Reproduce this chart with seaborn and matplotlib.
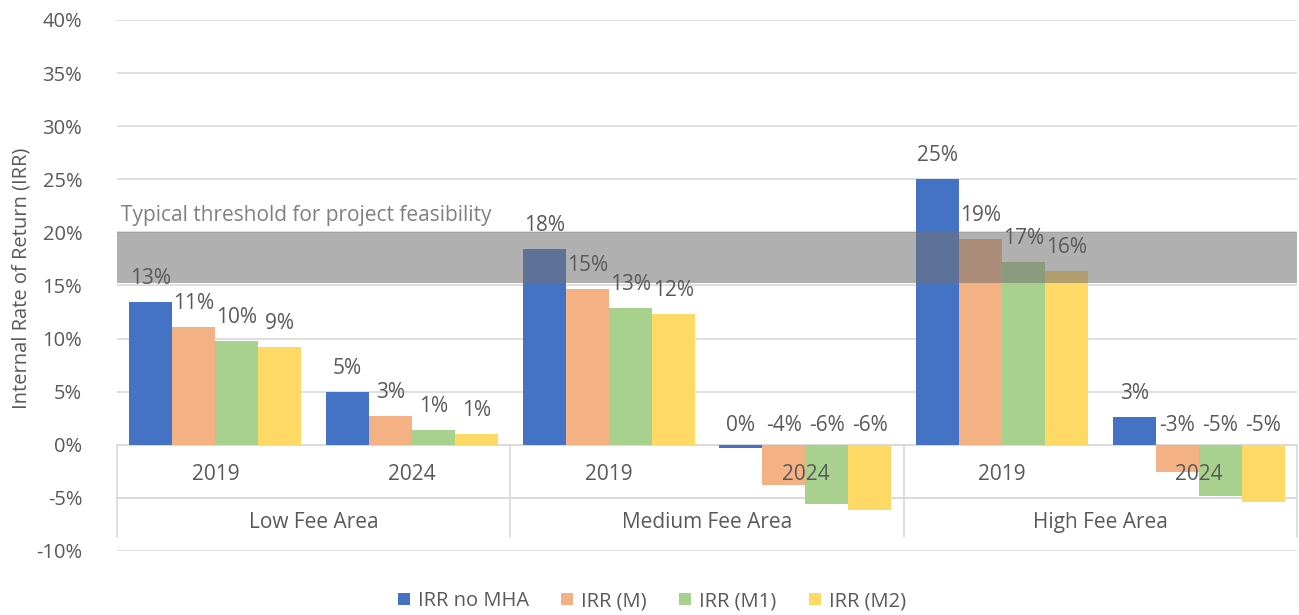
import matplotlib
matplotlib.use("Agg")
import matplotlib.pyplot as plt
import seaborn as sns
import pandas as pd

# ---- data ----
groups = ["Low Fee Area", "Medium Fee Area", "High Fee Area"]
years = ["2019", "2024"]
series = ["IRR no MHA", "IRR (M)", "IRR (M1)", "IRR (M2)"]
irr_no_mha = [13.4, 5.0, 18.4, -0.3, 25.0, 2.6]
irr_m = [11.1, 2.7, 14.7, -3.8, 19.4, -2.6]
irr_m1 = [9.8, 1.4, 12.9, -5.6, 17.2, -4.8]
irr_m2 = [9.2, 1.0, 12.3, -6.1, 16.4, -5.4]
yticks = [-10, -5, 0, 5, 10, 15, 20, 25, 30, 35, 40]
threshold_band = [15.2, 20.0]
threshold_label = "Typical threshold for project feasibility"
ylabel = "Internal Rate of Return (IRR)"
colors = ["#4472C4", "#F4B183", "#A9D18E", "#FFD966"]

# ---- build long table ----
cats = [f"{g}|{y}" for g in groups for y in years]
rows = []
for s, vals in zip(series, [irr_no_mha, irr_m, irr_m1, irr_m2]):
    for c, v in zip(cats, vals):
        rows.append({"cat": c, "series": s, "value": v})
df = pd.DataFrame(rows)

sns.set_theme(style="white")
FONT = ["Open Sans", "DejaVu Sans"]
plt.rcParams["font.family"] = FONT
TXT = "#595959"

fig = plt.figure(figsize=(12.99, 6.15), dpi=100)
ax = fig.add_axes([117 / 1299, 1 - 551 / 615, (1297 - 117) / 1299, (551 - 20) / 615])

sns.barplot(data=df, x="cat", y="value", hue="series", order=cats,
            hue_order=series, palette=colors, saturation=1, width=0.875,
            linewidth=0, edgecolor="none", ax=ax, zorder=2, legend=True)

ax.set_xlim(-0.5, len(cats) - 0.5)
ax.set_ylim(yticks[0], yticks[-1])
ax.set_yticks(yticks)
ax.set_yticklabels([f"{t}%" for t in yticks], color=TXT, fontsize=14.5)
ax.tick_params(axis="y", length=0, pad=25)
ax.set_xticks([])
ax.set_xlabel("")
ax.set_ylabel(ylabel, color=TXT, fontsize=14.5)
ax.yaxis.label.set_va("center")
ax.yaxis.label.set_ha("center")
ax.yaxis.set_label_coords((22 - 117) / 1180, 0.514)
for sp in ax.spines.values():
    sp.set_visible(False)
ax.yaxis.grid(True, color="#D9D9D9", linewidth=1.2, zorder=0)
ax.set_axisbelow(True)

# threshold band
ax.axhspan(threshold_band[0], threshold_band[1], color="#727272", alpha=0.56,
           zorder=3, linewidth=0)
ax.text(-0.48, threshold_band[1] + 0.6, threshold_label, color="#808080",
        fontsize=15, ha="left", va="bottom", zorder=5)

# data labels
for cont, vals in zip(ax.containers, [irr_no_mha, irr_m, irr_m1, irr_m2]):
    for bar, v in zip(cont, vals):
        cx = bar.get_x() + bar.get_width() / 2
        base = v if v >= 0 else 0
        off = 13 if v >= 0 else 10
        ax.annotate(f"{round(v)}%", (cx, base), xytext=(0, off),
                    textcoords="offset points", ha="center",
                    va="baseline", color=TXT, fontsize=15, zorder=6)

# multi-level category axis
line_kw = dict(color="#D9D9D9", linewidth=1.2, zorder=1, clip_on=False)
ax.plot([-0.5, len(cats) - 0.5], [0, 0], **line_kw)
ax.plot([-0.5, len(cats) - 0.5], [-5, -5], **line_kw)
nyear = len(years)
for gi in range(len(groups) + 1):
    xb = gi * nyear - 0.5
    ax.plot([xb, xb], [0, -8.7], **line_kw)
for i, c in enumerate(cats):
    ax.text(i, -2.8, c.split("|")[1], ha="center", va="center", color=TXT,
            fontsize=15, zorder=6)
for gi, g in enumerate(groups):
    ax.text(gi * nyear + (nyear - 1) / 2, -7.3, g, ha="center", va="center",
            color=TXT, fontsize=15, zorder=6)

# legend
sns.move_legend(ax, "center", bbox_to_anchor=(652 / 1299, 14 / 615),
                bbox_transform=fig.transFigure, ncol=4, frameon=False,
                title=None, fontsize=14.5, handlelength=0.6, handleheight=0.6,
                handletextpad=0.4, columnspacing=1.6)
for t in ax.get_legend().get_texts():
    t.set_color(TXT)

fig.savefig("out.png", dpi=100)
